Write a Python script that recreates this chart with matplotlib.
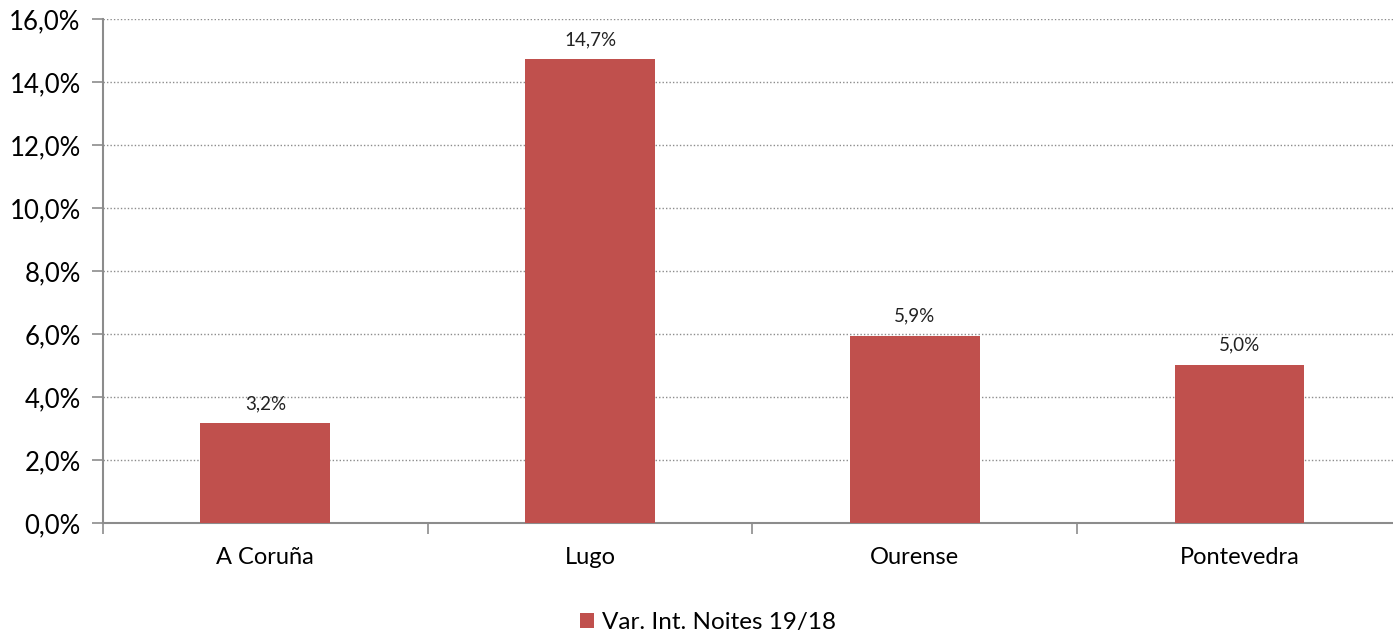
import matplotlib.pyplot as plt
from matplotlib.ticker import FuncFormatter, MultipleLocator, FixedLocator

plt.rcParams["font.family"] = ["Lato", "DejaVu Sans"]

provinces = ["A Coruña", "Lugo", "Ourense", "Pontevedra"]
var_noites = [3.17, 14.73, 5.94, 5.03]
series_name = "Var. Int. Noites 19/18"

BAR_COLOR = "#C0504D"
AXIS_COLOR = "#8C8C8C"


def pct(v, _pos=None):
    return f"{v:.1f}%".replace(".", ",")


fig = plt.figure(figsize=(13.93, 6.34), dpi=100)
# plot area runs a little past the right edge of the image, as in the original
ax = fig.add_axes([0.0739, 0.175, 0.9325, 0.795])

x = list(range(len(provinces)))
bars = ax.bar(x, var_noites, width=0.4, color=BAR_COLOR, label=series_name, zorder=3)

for xi, v in zip(x, var_noites):
    ax.annotate(pct(v), (xi, v), xytext=(0, 8), textcoords="offset points",
                ha="center", va="bottom", fontsize=13.5, color="#222222")

ax.set_xlim(-0.5, len(provinces) - 0.5)
ax.set_ylim(0, 16)
ax.yaxis.set_major_locator(MultipleLocator(2))
ax.yaxis.set_major_formatter(FuncFormatter(pct))
ax.grid(axis="y", color="#8C8C8C", linestyle=(0, (1, 1.5)), linewidth=1.0, zorder=0)

ax.set_xticks(x)
ax.set_xticklabels(provinces, fontsize=17)
ax.xaxis.set_minor_locator(FixedLocator([i - 0.5 for i in range(len(provinces) + 1)]))
ax.tick_params(axis="x", which="major", length=0, pad=17)
ax.tick_params(axis="x", which="minor", length=8, color=AXIS_COLOR, width=1.2)
ax.tick_params(axis="y", length=8, color=AXIS_COLOR, width=1.2, labelsize=18.5, pad=8)

for side in ["top", "right"]:
    ax.spines[side].set_visible(False)
for side in ["left", "bottom"]:
    ax.spines[side].set_color(AXIS_COLOR)
    ax.spines[side].set_linewidth(1.5)

fig.legend(handles=[bars], labels=[series_name], loc="center",
           bbox_to_anchor=(0.508, 0.018), frameon=False, fontsize=17.5,
           handlelength=0.6, handleheight=0.6, handletextpad=0.3)

fig.savefig("out.png", dpi=100)
